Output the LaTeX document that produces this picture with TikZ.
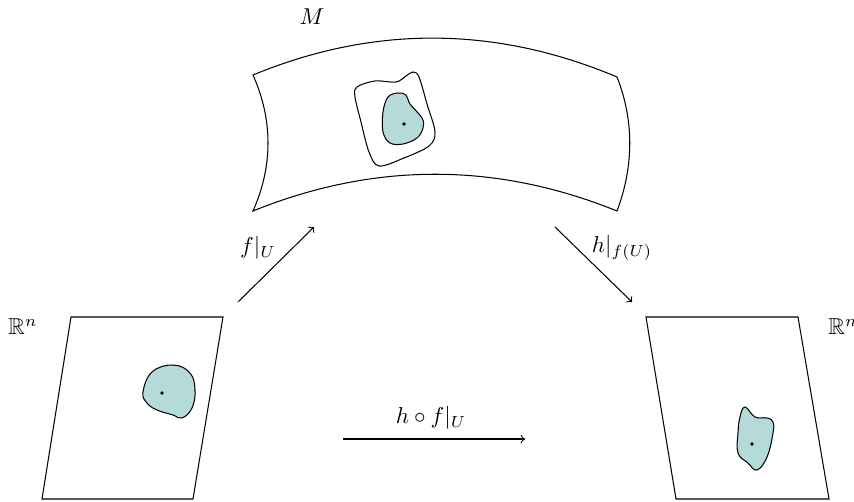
\documentclass[tikz,border=0pt]{standalone}
\usepackage{amssymb}
\definecolor{blobfill}{RGB}{180,219,218}
\tikzset{
  outline/.style={draw=black, line width=0.45pt},
  blob/.style={draw=black, line width=0.45pt, fill=blobfill},
  ptdot/.style={fill=black, circle, inner sep=0pt, minimum size=1.6pt},
  maparrow/.style={->, line width=0.45pt},
  lbl/.style={inner sep=0pt}
}
\begin{document}
\begin{tikzpicture}[x=0.435pt,y=-0.435pt]
\useasboundingbox (0,0) rectangle (854,502);

% manifold M
\draw[outline] (253,75) .. controls (374,25) and (496,26) .. (617,77)
  .. controls (634,120) and (634,166) .. (617,211)
  .. controls (496,162) and (374,162) .. (253,211)
  .. controls (273,166) and (273,120) .. (253,75) -- cycle;
\node[lbl] (M) at (312,17) {$M$};

% outer open set
\draw[outline] plot[smooth cycle, tension=0.55] coordinates {
  (357,87) (375,81) (396,82) (406,76) (413,72) (419,77)
  (427,104) (435,132) (429,146) (404,158) (379,166) (369,152)
  (361,122) (355,97)};
% inner open set
\draw[blob] plot[smooth cycle, tension=0.6] coordinates {
  (383,112) (388,97) (398,93) (406,95) (410,104)
  (422,118) (423,128) (417,138) (403,144) (390,143) (383,132)};
\node[ptdot] (pM) at (404,124) {};

% left R^n
\draw[outline] (71,317) -- (223,317) -- (193,499) -- (42,499) -- cycle;
\node[lbl] (R1) at (23,327) {$\mathbb{R}^n$};
\draw[blob] plot[smooth cycle, tension=0.7] coordinates {
  (143,392) (152,372) (173,365) (190,373) (195,390) (192,408)
  (182,418) (173,415) (157,410) (147,403)};
\node[ptdot] (pL) at (162,393) {};

% right R^n
\draw[outline] (646,317) -- (798,317) -- (829,499) -- (676,499) -- cycle;
\node[lbl] (R2) at (843,327) {$\mathbb{R}^n$};
\draw[blob] plot[smooth cycle, tension=0.7] coordinates {
  (745,407) (755,417) (767,418) (773,422) (773,433) (767,457)
  (757,470) (748,463) (738,453) (738,433) (740,417)};
\node[ptdot] (pR) at (752,444) {};

% maps
\coordinate (fa) at (238,302);
\coordinate (fb) at (314,227);
\draw[maparrow] (fa) -- (fb);
\node[lbl] (fl) at (258,248) {$f|_U$};

\coordinate (ha) at (555,227);
\coordinate (hb) at (632,302);
\draw[maparrow] (ha) -- (hb);
\node[lbl] (hl) at (622,248) {$h|_{f(U)}$};

\coordinate (ca) at (343,439);
\coordinate (cb) at (525,439);
\draw[maparrow] (ca) -- (cb);
\node[lbl] (cl) at (431,418) {$h\circ f|_U$};
\end{tikzpicture}
\end{document}
